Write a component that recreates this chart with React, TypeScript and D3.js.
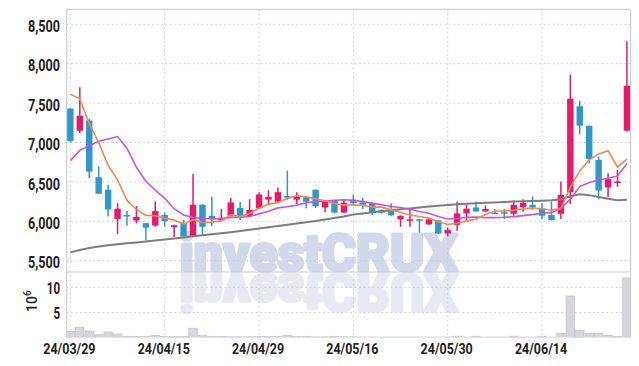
import React from "react";
import * as d3 from "d3";

const dates = [
  "24/03/29","24/04/01","24/04/02","24/04/03","24/04/04","24/04/05","24/04/08","24/04/09","24/04/11","24/04/12",
  "24/04/15","24/04/16","24/04/17","24/04/18","24/04/19","24/04/22","24/04/23","24/04/24","24/04/25","24/04/26",
  "24/04/29","24/04/30","24/05/02","24/05/03","24/05/07","24/05/08","24/05/09","24/05/10","24/05/13","24/05/14",
  "24/05/16","24/05/17","24/05/20","24/05/21","24/05/22","24/05/23","24/05/24","24/05/27","24/05/28","24/05/29",
  "24/05/30","24/05/31","24/06/03","24/06/04","24/06/05","24/06/07","24/06/10","24/06/11","24/06/12","24/06/13",
  "24/06/14","24/06/17","24/06/18","24/06/19","24/06/20","24/06/21","24/06/24","24/06/25","24/06/26","24/06/27",
];

const openP = [
  7430,7150,7280,6560,6400,6030,6080,6010,5975,5945,
  6080,5925,5980,5815,6210,6070,6010,6065,6170,6070,
  6165,6275,6250,6320,6275,6305,6400,6175,6260,6110,
  6275,6240,6230,6145,6155,6025,6010,6025,5960,6010,
  5845,5955,6100,6175,6125,6110,6115,6095,6180,6210,
  6165,6080,6095,6370,7460,7210,6780,6430,6495,7150,
];
const highP = [
  7440,7700,7300,6700,6460,6230,6130,6195,5980,6250,
  6110,5955,6015,6600,6215,6310,6155,6295,6245,6280,
  6370,6395,6430,6645,6370,6310,6405,6255,6265,6270,
  6340,6295,6235,6150,6230,6075,6160,6030,6030,6015,
  5920,6250,6210,6250,6200,6155,6155,6265,6280,6315,
  6230,6250,6505,7860,7530,7215,6820,6610,6650,8285,
];
const lowP = [
  7000,7120,6550,6350,6060,5840,5945,5975,5760,5935,
  5930,5800,5805,5805,5830,5940,6000,6060,6015,6060,
  6160,6220,6245,6275,6220,6165,6170,6115,6100,6105,
  6210,6155,6080,6100,6070,5930,5930,5855,5955,5840,
  5810,5880,6020,6120,6120,6095,6030,6070,6125,6145,
  6025,6010,6030,6220,7105,6735,6280,6305,6440,7140,
];
const closeP = [
  7020,7340,6630,6350,6150,6160,6070,6055,5920,6130,
  6000,5950,5810,6210,5930,6030,6045,6240,6050,6145,
  6340,6310,6370,6300,6320,6250,6190,6250,6110,6235,
  6230,6210,6110,6110,6075,6070,6025,6010,6025,5845,
  5890,6100,6160,6125,6155,6100,6110,6210,6235,6175,
  6070,6015,6335,7555,7215,6790,6390,6535,6505,7720,
];

const ma5 = [
  7614,7555,7240,7000,6710,6526,6265,6150,6075,6070,
  6040,6015,5965,6020,5985,5990,6005,6085,6060,6100,
  6165,6215,6240,6290,6325,6310,6285,6260,6225,6205,
  6205,6205,6180,6180,6145,6115,6080,6060,6040,5995,
  5960,5975,6005,6025,6085,6130,6130,6140,6160,6165,
  6160,6140,6165,6430,6640,6780,6855,6895,6690,6790,
];
const ma20 = [
  6770,6900,6960,7015,7045,7075,6928,6685,6508,6395,
  6292,6160,6080,6050,6035,6030,6034,6050,6051,6060,
  6094,6128,6170,6185,6205,6235,6250,6256,6265,6274,
  6265,6252,6231,6209,6188,6175,6154,6124,6103,6060,
  6030,6035,6050,6055,6047,6047,6051,6059,6072,6085,
  6102,6110,6165,6280,6441,6492,6525,6547,6576,6729,
];
const ma60 = [
  5606,5635,5660,5680,5695,5708,5720,5732,5745,5757,
  5770,5782,5795,5810,5822,5835,5848,5862,5876,5892,
  5908,5924,5940,5956,5972,5988,6004,6022,6042,6062,
  6085,6100,6115,6128,6140,6152,6164,6176,6188,6198,
  6206,6215,6222,6229,6235,6240,6245,6250,6254,6258,
  6262,6266,6280,6318,6342,6332,6308,6285,6268,6272,
];

const volume = [
  1.2,2.05,1.3,0.55,1.1,0.7,0.25,0.25,0.2,0.45,
  0.25,0.2,0.2,1.85,0.45,0.25,0.2,0.15,0.15,0.15,
  0.2,0.2,0.25,0.45,0.2,0.25,0.15,0.15,0.25,0.15,
  0.15,0.1,0.1,0.1,0.1,0.1,0.1,0.1,0.1,0.1,
  0.1,0.27,0.1,0.27,0.1,0.1,0.1,0.27,0.1,0.1,
  0.27,0.1,0.87,8.27,1.47,0.87,0.87,0.4,0.2,11.87,
];

const priceTicks = [5500, 6000, 6500, 7000, 7500, 8000, 8500];
const volTicks = [5, 10];
const dateTickIdx = [0, 10, 20, 30, 40, 50];

const W = 639, H = 366;
const LEFT = 66.7, RIGHT = 630.6, TOP = 9.3, SEP = 272, BOTTOM = 337.6;
const UP = "#e8196b", DOWN = "#2f97c9";
const LABEL_FONT = "Roboto, 'DejaVu Sans', sans-serif";
const WM_FONT = "Roboto, Inter, 'DejaVu Sans', sans-serif";

export default function App() {
  const x = d3.scalePoint<string>().domain(dates).range([LEFT, RIGHT]).padding(0.39);
  const step = x.step();
  const y = d3.scaleLinear().domain([5500, 8500]).range([260.7, 24.3]);
  const yv = d3.scaleLinear().domain([0, 10]).range([BOTTOM, 287.3]);
  const line = (arr: number[]) =>
    d3.line<number>().x((_, i) => x(dates[i])!).y((v) => y(v))(arr) || "";
  const bodyW = step * 0.68;
  const grid = "#c3c6df";

  return (
    <svg width={W} height={H} style={{ position: "absolute", left: 0, top: 0, background: "#fff" }}>
      <defs>
        <clipPath id="pclip"><rect x={LEFT} y={TOP} width={RIGHT - LEFT} height={SEP - TOP} /></clipPath>
        <clipPath id="vclip"><rect x={LEFT} y={SEP} width={RIGHT - LEFT} height={BOTTOM - SEP} /></clipPath>
      </defs>
      {/* watermark */}
      <text x={179.5} y={SEP - 1.5} fontFamily={WM_FONT} fontWeight={900} fontSize={52}
        textLength={278} lengthAdjust="spacingAndGlyphs" fill="#d3d9ea" stroke="#d3d9ea" strokeWidth={3}
        strokeLinejoin="round">investCRUX</text>
      <g clipPath="url(#vclip)">
        <text x={179.5} y={-SEP - 1.5} transform="scale(1,-1)" fontFamily={WM_FONT} fontWeight={900} fontSize={52}
          textLength={278} lengthAdjust="spacingAndGlyphs" fill="#e8e9f1" stroke="#e8e9f1" strokeWidth={3}
          strokeLinejoin="round">investCRUX</text>
      </g>
      {/* grid */}
      {priceTicks.map((t) => (
        <line key={"pg" + t} x1={LEFT} x2={RIGHT} y1={y(t)} y2={y(t)} stroke={grid} strokeWidth={1} strokeDasharray="1.5,3" />
      ))}
      {volTicks.map((t) => (
        <line key={"vg" + t} x1={LEFT} x2={RIGHT} y1={yv(t)} y2={yv(t)} stroke={grid} strokeWidth={1} strokeDasharray="1.5,3" />
      ))}
      {dateTickIdx.map((i) => (
        <line key={"xg" + i} x1={x(dates[i])} x2={x(dates[i])} y1={TOP} y2={BOTTOM} stroke={grid} strokeWidth={1} strokeDasharray="1.5,3" />
      ))}
      {/* frame */}
      <g stroke="#cfcfd6" strokeWidth={1.2} fill="none">
        <line x1={LEFT} x2={LEFT} y1={TOP} y2={BOTTOM} />
        <line x1={RIGHT} x2={RIGHT} y1={TOP} y2={BOTTOM} />
        <line x1={LEFT} x2={RIGHT} y1={TOP} y2={TOP} />
        <line x1={LEFT} x2={RIGHT} y1={SEP} y2={SEP} />
      </g>
      {/* volume */}
      <g clipPath="url(#vclip)">
        {volume.map((v, i) => (
          <rect key={"v" + i} x={x(dates[i])! - step / 2 + 0.5} width={step - 1} y={yv(v)} height={BOTTOM - yv(v)}
            fill="#d6d6dc" stroke="#c4c4cc" strokeWidth={0.8} />
        ))}
      </g>
      {/* candles */}
      <g clipPath="url(#pclip)">
        {dates.map((d, i) => {
          const o = openP[i], c = closeP[i];
          const col = c >= o ? UP : DOWN;
          const cx = x(d)!;
          const top = y(Math.max(o, c));
          const h = Math.max(1.5, y(Math.min(o, c)) - top);
          return (
            <g key={"c" + i}>
              <line x1={cx} x2={cx} y1={y(highP[i])} y2={y(lowP[i])} stroke={col} strokeWidth={1.5} />
              <rect x={cx - bodyW / 2} width={bodyW} y={top} height={h} fill={col} />
            </g>
          );
        })}
        <path d={line(ma60)} fill="none" stroke="#7d7d7d" strokeWidth={2} />
        <path d={line(ma20)} fill="none" stroke="#c953e6" strokeWidth={1.6} />
        <path d={line(ma5)} fill="none" stroke="#ef8a4e" strokeWidth={1.6} />
      </g>
      {/* y labels */}
      <g fontFamily={LABEL_FONT} fontWeight={700} fontSize={16} fill="#222" textAnchor="end">
        {priceTicks.map((t) => (
          <text key={"pl" + t} transform={`translate(60,${y(t) + 7.6}) scale(0.79,1)`}>{d3.format(",")(t)}</text>
        ))}
        {volTicks.map((t) => (
          <text key={"vl" + t} transform={`translate(60,${yv(t) + 6.5}) scale(0.72,1)`}>{t}</text>
        ))}
      </g>
      <text transform="translate(36.5,312) rotate(-90)" fontFamily={LABEL_FONT} fontWeight={500} fontSize={14} fill="#222">
        10<tspan dy={-6} fontSize={10}>6</tspan>
      </text>
      {/* x labels */}
      <g fontFamily={LABEL_FONT} fontWeight={700} fontSize={14.5} fill="#222" textAnchor="middle">
        {dateTickIdx.map((i) => (
          <text key={"xl" + i} transform={`translate(${x(dates[i])! - 1},354) scale(0.86,1)`}>{dates[i]}</text>
        ))}
      </g>
    </svg>
  );
}
